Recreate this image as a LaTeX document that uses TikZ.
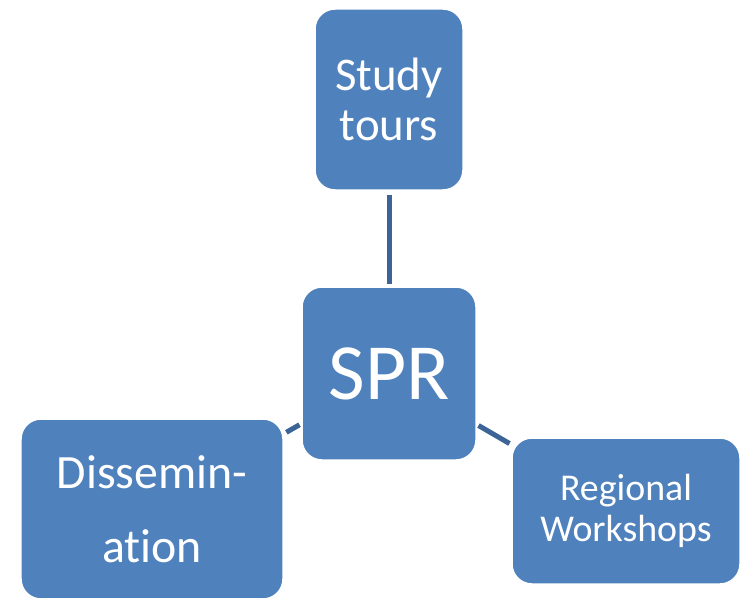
\documentclass[tikz,border=0pt]{standalone}
\usepackage{fontspec}
\setmainfont{Carlito}[Ligatures=NoCommon]
\usepackage{xcolor}

\definecolor{boxblue}{RGB}{79,129,189}
\definecolor{linkblue}{RGB}{60,100,150}

\begin{document}
\begin{tikzpicture}[x=1bp, y=-1bp,
topic box/.style = {fill=boxblue, draw=white, line width=1.5bp, rounded corners=20bp,
  text=white, align=center, inner sep=0pt},
topic link/.style = {draw=linkblue, line width=5bp}
]

\useasboundingbox (0,0) rectangle (742,598);

\node (study) at (389, 99.5) [topic box, minimum width=148bp, minimum height=181bp,
  font=\fontsize{47}{50}\selectfont] {Study\\tours};

\node (spr) at (389, 373.5) [topic box, minimum width=174bp, minimum height=173bp,
  font=\fontsize{80}{90}\selectfont] {SPR};

\node (dissem) at (152, 509) [topic box, minimum width=262bp, minimum height=180bp,
  font=\fontsize{48}{74}\selectfont] {Dissemin-\\ation};

\node (regional) at (626, 511) [topic box, minimum width=228bp, minimum height=146bp,
  font=\fontsize{38}{41}\selectfont] {Regional\\Workshops};

\draw[topic link, shorten <=4bp, shorten >=2bp] (study) -- (spr);
\draw[topic link, shorten <=2bp, shorten >=3bp] (spr) -- (dissem);
\draw[topic link, shorten <=2bp, shorten >=2bp] (spr) -- (regional);
\end{tikzpicture}
\end{document}
